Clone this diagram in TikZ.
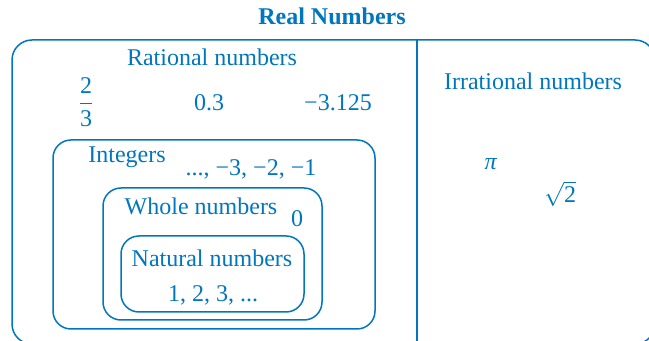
\documentclass[tikz,border=0pt]{standalone}
\usepackage{fontspec}
\setmainfont{Liberation Serif}
\definecolor{rnblue}{RGB}{0,118,190}
\begin{document}
\begin{tikzpicture}[x=0.5pt,y=-0.5pt,
  setbox/.style={draw=rnblue,line width=0.75pt},
  lbl/.style={text=rnblue,inner sep=0pt,anchor=base,font=\fontsize{12}{14}\selectfont},
  ttl/.style={text=rnblue,inner sep=0pt,anchor=base,font=\fontsize{12}{14}\selectfont\bfseries}]
\useasboundingbox (0,0) rectangle (649,341);
\begin{scope}
\clip (0,0) rectangle (649,341);
\draw[setbox,rounded corners=10pt] (12,40) rectangle (655,344);
\coordinate (dtop) at (417,40);
\coordinate (dbot) at (417,344);
\draw[setbox] (dtop) -- (dbot);
\end{scope}
\draw[setbox,rounded corners=9pt] (53,140) rectangle (375,329);
\draw[setbox,rounded corners=9pt] (103,188) rectangle (322,320);
\draw[setbox,rounded corners=9pt] (121,236) rectangle (304,312);
\node[ttl] (title) at (332,25) {Real Numbers};
\node[lbl] (rat) at (212,66) {Rational numbers};
\node[lbl] (irr) at (533,90) {Irrational numbers};
\node[lbl,anchor=center] (twothirds) at (86,102) {$\displaystyle\frac{\mbox{2}}{\mbox{3}}$};
\node[lbl] (pt3) at (209,111) {0.3};
\node[lbl] (m3125) at (338,111) {−3.125};
\node[lbl] (int) at (127,163) {Integers};
\node[lbl] (negs) at (251,176) {..., −3, −2, −1};
\node[lbl] (whole) at (201,215) {Whole numbers};
\node[lbl] (zero) at (297,227) {0};
\node[lbl] (nat) at (212,267) {Natural numbers};
\node[lbl] (pos) at (213,302) {1, 2, 3, ...};
\node[lbl] (pi) at (491,170) {\textit{π}};
\node[lbl] (sqrt) at (560,203) {$\sqrt{\mbox{2}}$};
\end{tikzpicture}
\end{document}
